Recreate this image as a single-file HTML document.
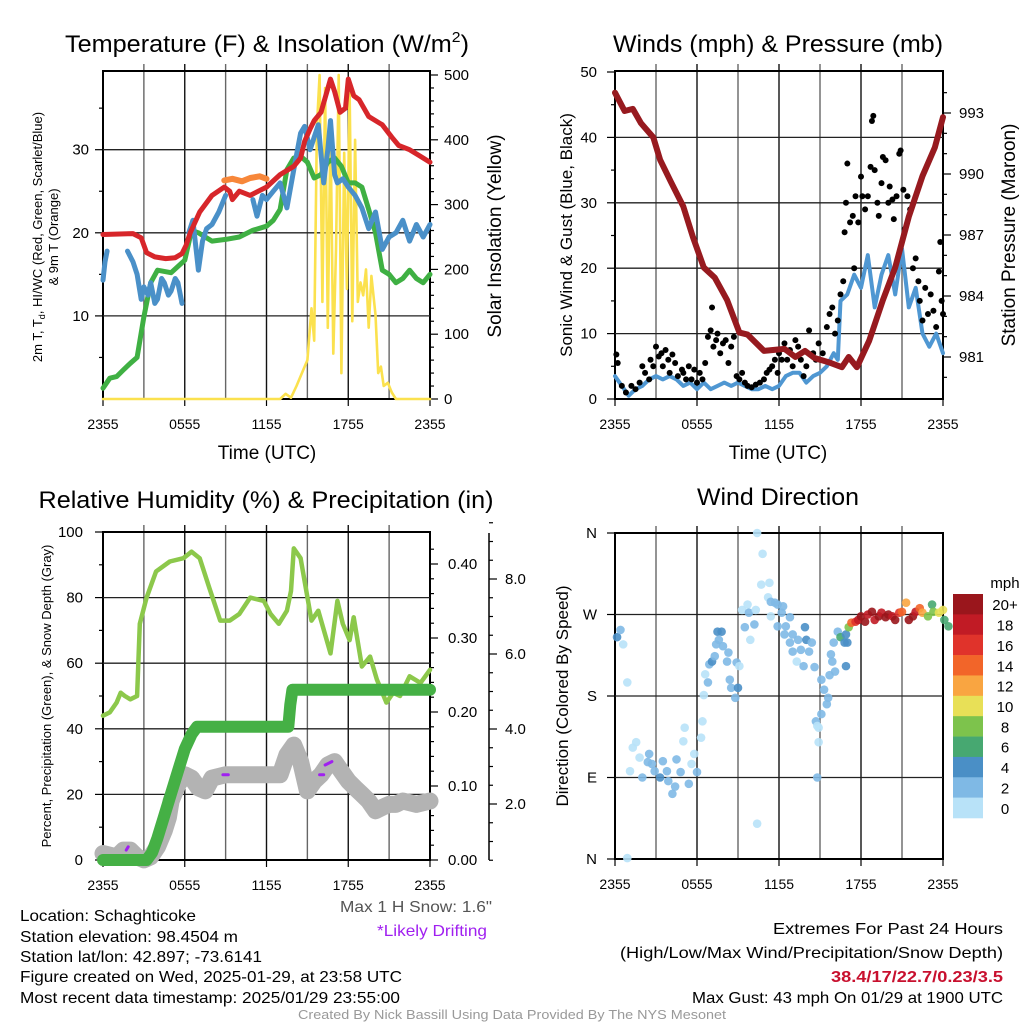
<!DOCTYPE html>
<html><head><meta charset="utf-8"><style>
html,body{margin:0;padding:0;background:#fff;}
svg{display:block;font-family:"Liberation Sans",Arial,sans-serif;}
</style></head><body>
<svg id="chart" width="1024" height="1024" viewBox="0 0 1024 1024" xmlns="http://www.w3.org/2000/svg">
<rect width="1024" height="1024" fill="#fff"/>
<g id="g1"></g>
<g id="g2"></g>
<g id="g3"></g>
<g id="g4"></g>
<g id="gt">
<text x="267" y="52" font-size="24" text-anchor="middle" textLength="404" lengthAdjust="spacingAndGlyphs">Temperature (F) &amp; Insolation (W/m<tspan font-size="15" dy="-10">2</tspan><tspan dy="10">)</tspan></text>
<text x="778" y="52" font-size="24" text-anchor="middle" textLength="330" lengthAdjust="spacingAndGlyphs">Winds (mph) &amp; Pressure (mb)</text>
<text x="266" y="508" font-size="24" text-anchor="middle" textLength="455" lengthAdjust="spacingAndGlyphs">Relative Humidity (%) &amp; Precipitation (in)</text>
<text x="778" y="505" font-size="24" text-anchor="middle" textLength="162" lengthAdjust="spacingAndGlyphs">Wind Direction</text>
<text x="267" y="459" font-size="19" text-anchor="middle">Time (UTC)</text>
<text x="778" y="459" font-size="19" text-anchor="middle">Time (UTC)</text>
<text transform="translate(42,237) rotate(-90)" font-size="13" text-anchor="middle">2m T, T<tspan font-size="9" dy="3">d</tspan><tspan dy="-3">, HI/WC (Red, Green, Scarlet/Blue)</tspan></text>
<text transform="translate(58,237) rotate(-90)" font-size="13" text-anchor="middle">&amp; 9m T (Orange)</text>
<text transform="translate(501,236) rotate(-90)" font-size="19" text-anchor="middle">Solar Insolation (Yellow)</text>
<text transform="translate(572,235) rotate(-90)" font-size="17" text-anchor="middle">Sonic Wind &amp; Gust (Blue, Black)</text>
<text transform="translate(1015,235) rotate(-90)" font-size="19" text-anchor="middle">Station Pressure (Maroon)</text>
<text transform="translate(51,696) rotate(-90)" font-size="13" text-anchor="middle">Percent, Precipitation (Green), &amp; Snow Depth (Gray)</text>
<text transform="translate(568,696) rotate(-90)" font-size="17" text-anchor="middle">Direction (Colored By Speed)</text>
<text x="492" y="912" font-size="16" text-anchor="end" textLength="152" lengthAdjust="spacingAndGlyphs" fill="#555">Max 1 H Snow: 1.6"</text>
<text x="487" y="936" font-size="16" text-anchor="end" textLength="110" lengthAdjust="spacingAndGlyphs" fill="#a020f0">*Likely Drifting</text>
<text x="20" y="921" font-size="16" textLength="176" lengthAdjust="spacingAndGlyphs">Location: Schaghticoke</text>
<text x="20" y="942" font-size="16" textLength="218" lengthAdjust="spacingAndGlyphs">Station elevation: 98.4504 m</text>
<text x="20" y="962" font-size="16" textLength="242" lengthAdjust="spacingAndGlyphs">Station lat/lon: 42.897; -73.6141</text>
<text x="20" y="982" font-size="16" textLength="382" lengthAdjust="spacingAndGlyphs">Figure created on Wed, 2025-01-29, at 23:58 UTC</text>
<text x="20" y="1003" font-size="16" textLength="380" lengthAdjust="spacingAndGlyphs">Most recent data timestamp: 2025/01/29 23:55:00</text>
<text x="1003" y="934" font-size="16" text-anchor="end" textLength="230" lengthAdjust="spacingAndGlyphs">Extremes For Past 24 Hours</text>
<text x="1003" y="958" font-size="16" text-anchor="end" textLength="383" lengthAdjust="spacingAndGlyphs">(High/Low/Max Wind/Precipitation/Snow Depth)</text>
<text x="1003" y="982" font-size="16" text-anchor="end" font-weight="bold" textLength="172" lengthAdjust="spacingAndGlyphs" fill="#c8102e">38.4/17/22.7/0.23/3.5</text>
<text x="1003" y="1003" font-size="16" text-anchor="end" textLength="311" lengthAdjust="spacingAndGlyphs">Max Gust: 43 mph On 01/29 at 1900 UTC</text>
<text x="512" y="1019" font-size="13" text-anchor="middle" textLength="428" lengthAdjust="spacingAndGlyphs" fill="#999">Created By Nick Bassill Using Data Provided By The NYS Mesonet</text>
</g>
</svg>
<script>
// ---------- data ----------
const xTickLabels = ["2355","0555","1155","1755","2355"];
const tempTicks = [10,20,30];
const solarTicks = [0,100,200,300,400,500];
const windTicks = [0,10,20,30,40,50];
const pressTicks = [981,984,987,990,993];
const rhTicks = [0,20,40,60,80,100];
const precipTicks = [0.00,0.10,0.20,0.30,0.40];
const snowTicks = [2.0,4.0,6.0,8.0];
const dirTicks = ["N","E","S","W","N"];
const cbLabels = ["20+","18","16","14","12","10","8","6","4","2","0"];
const cbColors = ["#9a161c","#c11b25","#e0332b","#f26529","#f9a541","#e8e057","#7dc34c","#47a871","#4a8fc6","#7fb9e5","#b8e2f8"];

const redT = [0,2.2,2.8,3.2,3.8,4.6,5.3,5.8,6.1,6.4,7.1,8.0,8.9,9.3,9.5,10.0,10.8,11.4,12.0,13.0,14.0,14.5,14.8,15.2,15.5,16.0,16.7,17.0,17.4,17.8,18.0,18.4,18.8,19.5,20.5,21.2,21.7,22.5,23.2,24];
const redV = [19.8,19.9,19.4,17.6,17.1,16.9,17.0,17.5,18.5,20.0,22.5,24.5,25.5,25.0,24.0,25.0,24.5,25.0,25.5,27.0,28.0,29.0,31.0,32.5,33.5,34.5,38.5,37.0,34.5,35.0,38.5,36.5,36.0,34.0,33.0,31.5,30.5,30.0,29.3,28.5];
const orangeT = [8.9,9.5,10.2,10.8,11.5,12.0];
const orangeV = [26.3,26.5,26.2,26.6,26.8,26.5];
const greenT = [0,0.5,1,1.5,2,2.5,3,3.5,4,5,6,6.5,7,7.5,8,9,10,11,12,12.5,13,13.5,14,14.5,15,15.5,16,16.5,17,17.5,18,18.5,19,19.5,20,20.5,21,21.5,22,22.5,23,23.5,24];
const greenV = [1.3,2.5,2.7,3.5,4.3,5.0,9.9,14.0,15.5,15.2,16.7,20.3,20.0,19.5,19.0,19.2,19.5,20.3,20.8,21.5,22.8,27.6,29.0,29.2,28.5,26.6,27.0,28.5,29.0,28.0,26.0,26.0,25.5,22.8,20.0,15.5,15.0,14.0,14.5,15.5,14.5,14.0,15.0];
const blueT = [0,0.15,0.3,null,1.8,2.2,2.5,2.8,3.0,3.3,3.5,3.8,4.0,4.3,4.5,4.8,5.0,5.3,5.5,5.8,null,6.3,6.6,7.0,7.3,7.6,8.0,8.5,9.0,null,11.0,11.3,11.7,12.0,12.5,13.0,13.5,14.0,14.5,14.8,15.2,15.5,15.8,16.2,16.5,16.7,17.0,17.2,17.6,18.0,18.5,19.0,19.5,20.0,20.5,21.0,21.5,22.0,22.5,23.0,23.5,24];
const blueV = [14.3,16.5,17.8,null,17.8,16.5,15.0,12.0,13.5,12.5,14.0,11.5,12.0,14.5,14.0,12.5,13.0,14.5,14.0,11.5,null,20.0,21.5,15.5,19.0,20.5,21.0,22.5,24.5,null,24.0,22.0,24.5,24.0,25.0,26.0,23.0,27.6,32.0,32.8,30.0,31.5,33.0,26.0,30.0,33.5,27.0,26.0,26.5,25.5,24.5,23.0,20.5,22.5,18.0,19.5,20.0,21.5,19.0,21.0,19.5,21.0];
const solarT = [0,13.0,13.4,13.8,14.2,14.6,15.0,15.3,15.5,15.7,15.9,16.1,16.3,16.5,16.7,16.9,17.1,17.3,17.5,17.7,17.9,18.1,18.3,18.5,18.7,18.9,19.1,19.3,19.5,19.7,20.0,20.2,20.4,20.6,20.9,21.2,21.5,24];
const solarV = [0,0,8,2,20,40,60,140,90,420,500,150,480,110,420,70,230,500,40,380,170,480,120,400,150,180,160,200,110,190,130,40,50,20,25,10,0,0];

const pressT = [0,0.7,1.3,1.9,2.8,3.3,4.1,5.0,5.7,6.5,7.3,8.2,9.1,9.7,10.9,12.4,13.2,13.9,14.6,15.6,16.6,17.1,17.7,18.6,19.6,20.5,21.5,22.5,23.4,24];
const pressV = [994.0,993.1,993.2,992.5,991.8,990.7,989.6,988.4,986.9,985.4,984.9,983.8,982.2,982.1,981.3,981.4,981.0,981.3,980.95,980.75,980.5,981.0,980.5,981.8,983.8,985.4,987.9,989.9,991.3,992.8];
const windT = [0,0.5,1,1.5,2,2.5,3,3.5,4,4.5,5,5.5,6,6.5,7,7.5,8,8.5,9,9.5,10,10.5,11,11.5,12,12.5,13,13.5,14,14.5,15,15.5,16,16.3,16.5,17,17.5,18,18.5,19,19.5,20,20.5,21,21.5,22,22.5,23,23.5,24];
const windV = [3.5,2,0.5,1.5,2,3,3.5,3,3.5,3,2,2.5,1.5,2.5,1.5,2,2.5,2,2.5,2,1.5,1.5,2,1.5,2,3.5,4,4,2.5,3.5,4,5,7,6,15,16,19,17,22,14,19,22,16,23,14,17,10,8,10,7];
const gustT = [0.1,0.2,0.5,0.8,1.2,1.5,1.8,2.0,2.2,2.5,2.6,2.8,3.0,3.2,3.4,3.5,3.7,3.9,4.0,4.2,4.4,4.6,4.9,5.0,5.2,5.4,5.6,5.8,6.0,6.2,6.4,6.6,6.8,7.0,7.1,7.2,7.4,7.5,7.7,7.9,8.1,8.3,8.5,8.7,8.9,9.1,9.3,9.5,9.7,10.0,10.3,10.6,10.9,11.1,11.3,11.5,11.7,11.9,12.0,12.2,12.4,12.6,12.8,13.0,13.2,13.4,13.6,13.8,14.0,14.2,14.5,14.7,14.9,15.0,15.2,15.5,15.7,15.9,16.1,16.3,16.5,16.7,16.8,16.9,17.0,17.2,17.4,17.5,17.6,17.8,18.0,18.1,18.3,18.5,18.7,18.8,18.9,19.0,19.2,19.3,19.5,19.6,19.8,20.0,20.1,20.3,20.4,20.6,20.8,20.9,21.1,21.2,21.4,21.6,21.8,22.0,22.2,22.3,22.5,22.7,22.9,23.1,23.3,23.5,23.7,23.8,23.9,24.0];
const gustV = [6.8,5.5,2,1,2,1.5,2.5,5,4,3,6,5,8,6.5,7,5,7.5,6,4,6.8,5.5,3.5,4.5,4,3,5,3,4.5,2.5,4,3,5.5,9.5,10.5,14,8,9,10,7,8.5,9,5.5,8,9.5,3.5,3,4,2.5,2,1.8,2.2,2.5,3,4,4.5,5,6,4,7,6,8.5,6,7.5,5,9,8,6,3.5,5,10.5,7,6,8.5,6,7,11,13,14,10,12,16,18,25.5,30,36,27,28,20,31,27,34,31,29,31,35.5,42.5,43.3,35,30,28,33,37,36.5,30,32.5,30.5,27.5,31,37.5,38,32,26,31,29,20,21.5,18,15,12,17,13,16,13.5,11,19.5,24,15,13];

const rhT = [0,0.5,1,1.3,1.6,2,2.5,2.7,3.2,3.9,4.9,5.9,6.5,7.1,7.8,8.6,9.3,10.0,10.8,11.8,12.3,12.9,13.5,13.8,14.0,14.5,15.3,15.8,16.7,17.2,17.6,18.1,18.4,19.0,19.6,20.1,20.8,21.3,21.8,22.5,23.3,24];
const rhV = [44,45,48,51,50,49,50,72,80,88,91,92,94,92,83,73,73,75,80,79,75,72,76,82,95,92,73,76,63,79,72,67,74,59,62,55,48,51,50,56,54,58];
const precipT = [0,3.2,3.6,4.0,4.5,5.0,5.5,6.0,6.5,6.9,13.6,13.75,13.9,24];
const precipV = [0,0,0.01,0.03,0.06,0.09,0.12,0.15,0.17,0.18,0.18,0.21,0.23,0.23];
const snowT = [0,1,1.5,2,2.5,3,3.5,4,4.5,4.8,5,5.5,6,6.5,7,7.5,8,9,10,11,12,13,13.5,14,14.5,15,15.5,16,16.5,17,17.5,18,18.5,19,19.5,20,20.5,21,21.5,22,23,24];
const snowV = [0.68,0.59,0.77,0.77,0.59,0.51,0.59,0.86,1.29,1.64,2.08,2.52,2.78,2.69,2.43,2.35,2.69,2.78,2.78,2.78,2.78,2.78,3.31,3.57,3.13,2.35,2.61,2.78,3.04,3.13,2.87,2.61,2.43,2.26,2.08,1.82,1.91,1.99,1.99,2.08,1.99,2.08];
const driftT = [[1.7,1.85],[8.8,9.2],[15.9,16.2],[16.3,16.8]];
const driftV = [[0.77,0.86],[2.78,2.78],[2.78,2.78],[3.04,3.13]];

const dirT = [0.15,0.4,0.6,0.9,0.9,1.1,1.3,1.55,1.8,2.0,2.5,2.4,2.7,2.9,3.3,3.5,3.8,3.9,4.2,4.4,4.5,4.8,5.0,5.1,5.4,5.6,5.8,6.0,6.3,6.4,6.5,6.6,6.8,6.9,7.1,7.3,7.4,7.5,7.8,7.6,7.9,8.2,8.3,8.4,8.5,8.8,8.9,9.0,9.1,9.3,9.5,9.7,9.8,9.9,10.2,10.3,10.4,10.8,10.7,11.3,11.2,11.4,11.7,11.9,12.2,12.3,11.4,11.9,12.5,12.8,12.4,13.0,12.8,13.0,13.3,13.4,13.6,13.8,13.9,14.0,14.2,14.4,14.6,14.7,14.8,14.9,14.9,14.8,15.1,15.5,15.6,15.3,15.1,15.7,15.8,16.1,15.9,16.0,16.3,16.5,16.8,16.9,17.0,16.9,17.1,17.3,17.6,17.8,18.0,18.3,18.5,18.8,19.0,19.3,19.5,19.8,20.0,20.3,20.5,20.8,21.0,21.3,21.5,21.8,22.0,22.3,22.5,22.9,23.2,23.3,23.7,24.0,24.1,24.4,10.4];
const dirV = [245,253,237,195,1,97,123,129,112,90,116,107,105,97,90,108,97,86,72,80,110,96,130,145,83,105,116,96,134,152,181,204,195,215,218,224,237,251,251,242,235,218,228,198,189,178,217,189,213,275,256,281,272,242,259,275,360,337,303,305,289,284,283,281,272,279,268,257,257,267,248,248,239,229,218,242,231,213,256,242,229,239,212,152,147,145,129,90,160,171,178,187,198,203,226,207,218,239,251,245,239,213,239,248,256,261,262,264,268,262,270,273,264,268,272,267,270,268,264,272,273,283,264,268,273,277,272,268,281,273,272,275,264,257,39];
const dirS = [4,3,1,0,0,0,0,0,1,2,3,3,2,2,4,3,2,2,2,2,2,2,1,1,2,1,1,3,1,0,1,0,2,2,4,2,3,4,4,2,2,2,2,2,2,2,2,4,1,1,2,1,3,0,2,0,0,0,0,0,1,2,2,2,2,3,1,2,2,2,2,2,2,2,1,2,2,2,4,4,2,2,2,2,1,1,1,3,3,2,2,3,3,3,2,2,3,2,3,6,5,4,4,4,8,14,16,18,20,20,18,20,18,20,18,20,20,18,20,16,14,12,20,20,18,14,12,8,6,8,10,10,6,6,0];

// ---------- helpers ----------
const NS = "http://www.w3.org/2000/svg";
function mk(parent, tag, attrs){const e=document.createElementNS(NS,tag);for(const k in attrs)e.setAttribute(k,attrs[k]);parent.appendChild(e);return e;}
function lin(d0,d1,r0,r1){return v=>r0+(v-d0)*(r1-r0)/(d1-d0);}
function pathD(ts,vs,sx,sy){let d="",pen=false;for(let i=0;i<ts.length;i++){if(ts[i]===null||vs[i]===null){pen=false;continue;}d+=(pen?"L":"M")+sx(ts[i]).toFixed(1)+","+sy(vs[i]).toFixed(1);pen=true;}return d;}
function spdColor(s){let i=Math.min(10,Math.floor(s/2));return cbColors[10-i];}

function frame(g,L,R,T,B,name){
  for(let h=3;h<24;h+=3){const x=L+(R-L)*h/24;
    const gl=mk(g,"line",{x1:x,y1:T-7,x2:x,y2:B,stroke:(h%6==0)?"#111":"#666","stroke-width":1.4});
    
    }
  for(let i=0;i<5;i++){const x=L+(R-L)*i/4;
    const t=mk(g,"line",{x1:x,y1:B,x2:x,y2:B+7,stroke:"#000","stroke-width":1.2});
    
    
    const tx=mk(g,"text",{x:x,y:B+30,"font-size":14,"text-anchor":"middle"});tx.textContent=xTickLabels[i];
    
    }
  const r=mk(g,"rect",{x:L,y:T,width:R-L,height:B-T,fill:"none",stroke:"#000","stroke-width":2});
  
  
}
function hgrid(g,L,R,y){const l=mk(g,"line",{x1:L,y1:y,x2:R,y2:y,stroke:"#222","stroke-width":1.3});
  
  }
function ytick(g,x,y,len,label,anchor,lx,fs){
  const t=mk(g,"line",{x1:x,y1:y,x2:x+len,y2:y,stroke:"#000","stroke-width":1.2});
  
  
  if(label!==null){const tx=mk(g,"text",{x:lx,y:y+5,"font-size":fs||15,"text-anchor":anchor});tx.textContent=label;
    
    }
}
function line(g,d,color,w,name){const p=mk(g,"path",{d:d,fill:"none",stroke:color,"stroke-width":w,"stroke-linejoin":"round","stroke-linecap":"round"});
  
  return p;}

// ---------- panel 1 ----------
(function(){const g=document.getElementById("g1");const L=103,R=430,T=71,B=399;
 const sx=lin(0,24,L,R),sy=lin(0,10,B,B-83.1),ss=lin(0,100,B,B-64.8);
 frame(g,L,R,T,B,"temperature");
 tempTicks.forEach(v=>{hgrid(g,L,R,sy(v));ytick(g,L,sy(v),-8,String(v),"end",L-14);});
 [5,15,25,35].forEach(v=>ytick(g,L,sy(v),-4,null));
 solarTicks.forEach(v=>ytick(g,R,ss(v),8,String(v),"start",R+14));
 for(let v=20;v<=500;v+=20){if(v%100)ytick(g,R,ss(v),4,null);}
 line(g,pathD(solarT,solarV,sx,ss),"#fbe14e",2.6,"insolation-line");
 line(g,pathD(greenT,greenV,sx,sy),"#3fb043",5,"dewpoint-line");
 line(g,pathD(blueT,blueV,sx,sy),"#4a90c8",5,"windchill-line");
 line(g,pathD(orangeT,orangeV,sx,sy),"#f7873a",6,"temp-9m-line");
 line(g,pathD(redT,redV,sx,sy),"#d7262a",5,"temp-2m-line");
})();

// ---------- panel 2 ----------
(function(){const g=document.getElementById("g2");const L=615,R=943,T=71,B=399;
 const sx=lin(0,24,L,R),sy=lin(0,50,B,T+1),sp=lin(981,993,357,113);
 frame(g,L,R,T,B,"winds");
 windTicks.forEach(v=>{if(v>0&&v<50)hgrid(g,L,R,sy(v));ytick(g,L,sy(v),-8,String(v),"end",L-18);});
 [5,15,25,35,45].forEach(v=>ytick(g,L,sy(v),-4,null));
 pressTicks.forEach(v=>ytick(g,R,sp(v),8,String(v),"start",R+16));
 for(let v=980;v<=994;v++){if((v-981)%3)ytick(g,R,sp(v),4,null);}
 line(g,pathD(windT,windV,sx,sy),"#4f97d2",4,"sonic-wind-line");
 for(let i=0;i<gustT.length;i++){const c=mk(g,"circle",{cx:sx(gustT[i]),cy:sy(gustV[i]),r:3,fill:"#000"});
   
   }
 line(g,pathD(pressT,pressV,sx,sp),"#971a1f",6,"pressure-line");
})();

// ---------- panel 3 ----------
(function(){const g=document.getElementById("g3");const L=103,R=430,T=532,B=860;
 const sx=lin(0,24,L,R),sy=lin(0,100,B,T),spr=lin(0,0.1,B,B-74),ssn=lin(0,1,879,841.5);
 frame(g,L,R,T,B,"humidity");
 rhTicks.forEach(v=>{if(v>0&&v<100)hgrid(g,L,R,sy(v));ytick(g,L,sy(v),-8,String(v),"end",L-20);});
 [10,30,50,70,90].forEach(v=>ytick(g,L,sy(v),-4,null));
 precipTicks.forEach(v=>ytick(g,R,spr(v),8,v.toFixed(2),"start",R+18));
 for(let v=0.02;v<0.44;v+=0.02){if(Math.round(v*100)%10)ytick(g,R,spr(v),4,null);}
 const ax=mk(g,"line",{x1:489,y1:533,x2:489,y2:B,stroke:"#000","stroke-width":1.5});
 
 
 snowTicks.forEach(v=>ytick(g,489,ssn(v),8,v.toFixed(1),"start",505));
 for(let v=0;v<=9.5;v+=0.5){if(v%2)ytick(g,489,ssn(v),4,null);}
 line(g,pathD(rhT,rhV,sx,sy),"#8cc84b",4.5,"rh-line");
 line(g,pathD(snowT,snowV,sx,ssn),"#b3b3b3",17,"snow-depth-line");
 line(g,pathD(precipT,precipV,sx,spr),"#45b045",12,"precip-line");
 for(let i=0;i<driftT.length;i++)line(g,pathD(driftT[i],driftV[i],sx,ssn),"#a020f0",3,"drifting-mark");
})();

// ---------- panel 4 ----------
(function(){const g=document.getElementById("g4");const L=615,R=943,T=533,B=859;
 const sx=lin(0,24,L,R),sy=lin(0,360,B,T);
 frame(g,L,R,T,B,"direction");
 dirTicks.forEach((lab,i)=>{const y=sy(i*90);if(i>0&&i<4)hgrid(g,L,R,y);ytick(g,L,y,-8,lab,"end",L-18);});
 for(let i=0;i<dirT.length;i++){const c=mk(g,"circle",{cx:sx(dirT[i]),cy:sy(dirV[i]),r:4.3,fill:spdColor(dirS[i]),"fill-opacity":0.9});
   
   }
 const h=(818-594)/11;
 for(let i=0;i<11;i++){const r=mk(g,"rect",{x:953,y:594+i*h,width:30,height:h+0.3,fill:cbColors[i]});
   
   
   const t=mk(g,"text",{x:1005,y:594+i*h+h/2+6,"font-size":15,"text-anchor":"middle"});t.textContent=cbLabels[i];
   
   }
 const m=mk(g,"text",{x:1005,y:588,"font-size":15,"text-anchor":"middle"});m.textContent="mph";
 
 
})();
</script>
</body></html>
